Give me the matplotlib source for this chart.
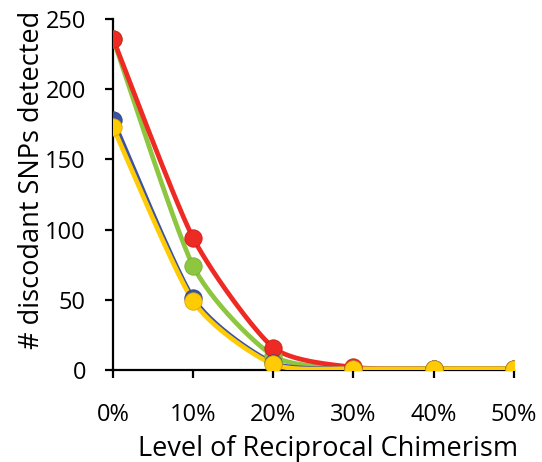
import numpy as np
import matplotlib
matplotlib.use("Agg")
import matplotlib.pyplot as plt

chimerism = [0, 10, 20, 30, 40, 50]
tick_labels = ["0%", "10%", "20%", "30%", "40%", "50%"]
series_green = [236, 74, 10, 1, 1, 1]
series_red = [236, 94, 16, 2, 1, 1]
series_blue = [178, 51, 5, 1, 1, 1]
series_yellow = [173, 49, 4, 1, 1, 1]

colors = {"green": "#8DC63F", "red": "#EE2A24", "blue": "#3A53A4", "yellow": "#FFCB05"}
edges = {"green": "#7AAE35", "red": "#C9201C", "blue": "#2E4388", "yellow": "#D9A800"}

plt.rcParams['font.family'] = ['Open Sans', 'DejaVu Sans']


def smooth(x, y, n=30, k=0.11):
    x = np.asarray(x, float)
    y = np.asarray(y, float)
    px = np.concatenate([[x[0]], x, [x[-1]]])
    py = np.concatenate([[y[0]], y, [y[-1]]])
    xs, ys = [], []
    t = np.linspace(0, 1, n)
    for i in range(1, len(px) - 2):
        p0 = np.array([px[i], py[i]])
        p3 = np.array([px[i + 1], py[i + 1]])
        c1 = p0 + (np.array([px[i + 1], py[i + 1]]) - np.array([px[i - 1], py[i - 1]])) * k
        c2 = p3 - (np.array([px[i + 2], py[i + 2]]) - np.array([px[i], py[i]])) * k
        b = ((1 - t) ** 3)[:, None] * p0 + (3 * (1 - t) ** 2 * t)[:, None] * c1 + \
            (3 * (1 - t) * t ** 2)[:, None] * c2 + (t ** 3)[:, None] * p3
        xs.extend(b[:, 0])
        ys.extend(b[:, 1])
    return np.array(xs), np.array(ys)


fig = plt.figure(figsize=(5.42, 4.62), dpi=100)
ax = fig.add_axes([0.2085, 0.199, 0.7395, 0.760])

for name, vals in [("green", series_green), ("red", series_red),
                   ("blue", series_blue), ("yellow", series_yellow)]:
    sx, sy = smooth(chimerism, vals)
    ax.plot(sx, sy, color=colors[name], lw=3.4, solid_capstyle='round', zorder=2)
    ax.plot(chimerism, vals, 'o', color=colors[name], ms=12.5,
            mec=edges[name], mew=0.6, zorder=3)

ax.set_xlim(0, 50)
ax.set_ylim(0, 250)
ax.set_xticks(chimerism)
ax.set_xticklabels(tick_labels)
ax.set_yticks([0, 50, 100, 150, 200, 250])
for s in ['top', 'right']:
    ax.spines[s].set_visible(False)
for s in ['left', 'bottom']:
    ax.spines[s].set_linewidth(1.6)
    ax.spines[s].set_zorder(1)
ax.tick_params(axis='both', direction='out', length=5.5, width=1.6, labelsize=17)
ax.tick_params(axis='x', pad=18)
ax.tick_params(axis='y', pad=14)
ax.set_xlabel("Level of Reciprocal Chimerism", fontsize=19.5)
ax.set_ylabel("# discodant SNPs detected", fontsize=19.5)
ax.xaxis.set_label_coords(0.536, -0.184)
ax.yaxis.set_label_coords(-0.168, 0.541)
for sp in ax.spines.values():
    sp.set_clip_on(False)

fig.savefig("out.png", dpi=100)
